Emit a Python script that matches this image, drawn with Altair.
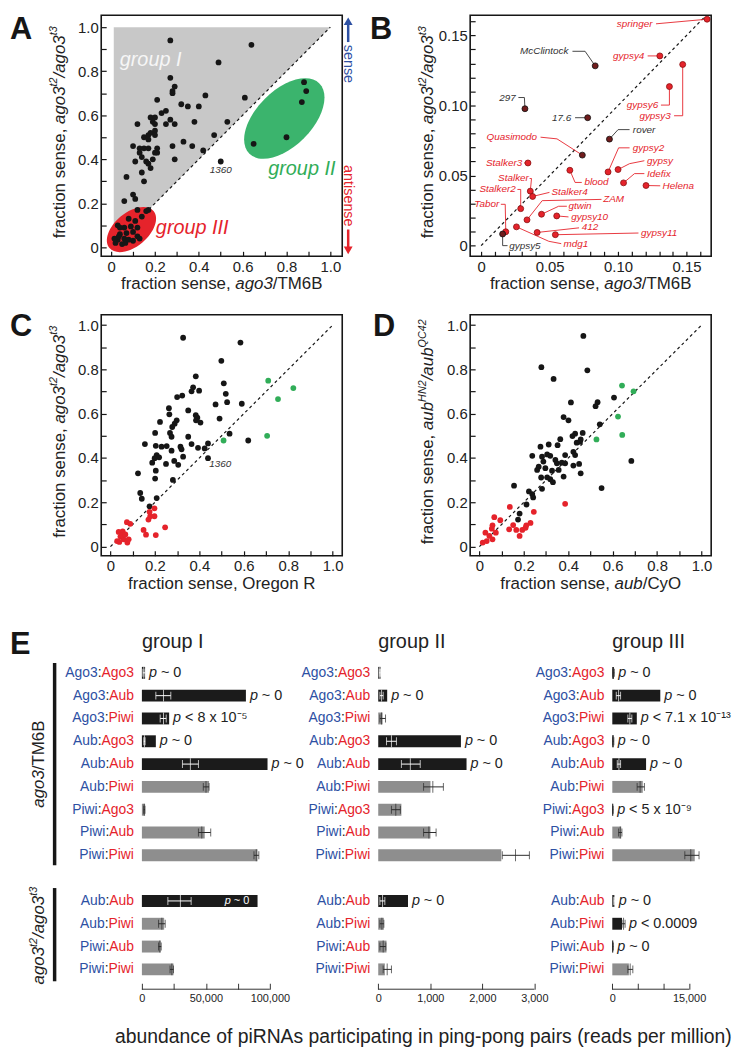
import altair as alt
import pandas as pd

FONT = "Liberation Sans, Arial, Helvetica, sans-serif"
INK = "#161616"
TXT = "#222222"
BLUE = "#2d50a3"
RED = "#e5232b"
GREEN = "#31ad58"
ELL_GREEN = "#3bb46d"
TRI_GRAY = "#c8c8c8"
BAR_DARK = "#1b1b1b"
BAR_GRAY = "#8e8e8e"

# ---------------- Panel A data ----------------
A1_x = [0.27, 0.64, 0.49, 0.27, 0.29, 0.28, 0.28, 0.61, 0.43, 0.21, 0.32, 0.35, 0.40, 0.23, 0.25, 0.18, 0.20, 0.27, 0.38, 0.12,
        0.19, 0.20, 0.25, 0.29, 0.53, 0.20, 0.18, 0.20, 0.17, 0.15, 0.17, 0.17, 0.47, 0.33, 0.28, 0.37, 0.10, 0.13, 0.15, 0.21,
        0.42, 0.21, 0.20, 0.14, 0.13, 0.11, 0.16, 0.17, 0.18, 0.19, 0.29, 0.14, 0.15, 0.07, 0.10, 0.11, 0.06, 0.12, 0.17, 0.50]
A1_y = [0.94, 0.92, 0.84, 0.77, 0.73, 0.71, 0.70, 0.68, 0.69, 0.67, 0.65, 0.64, 0.64, 0.61, 0.62, 0.59, 0.59, 0.58, 0.57, 0.56,
        0.57, 0.56, 0.56, 0.56, 0.57, 0.53, 0.52, 0.51, 0.51, 0.50, 0.49, 0.45, 0.51, 0.48, 0.46, 0.46, 0.46, 0.45, 0.45, 0.45,
        0.44, 0.43, 0.43, 0.41, 0.43, 0.39, 0.39, 0.38, 0.36, 0.40, 0.40, 0.34, 0.30, 0.32, 0.24, 0.22, 0.21, 0.17, 0.17, 0.39]
A2_x = [0.88, 0.89, 0.87, 0.65, 0.80]
A2_y = [0.75, 0.71, 0.66, 0.47, 0.50]
A3_x = [0.03, 0.08, 0.04, 0.03, 0.02, 0.05, 0.035, 0.06, 0.07, 0.09, 0.10, 0.12, 0.13, 0.16, 0.14, 0.11, 0.10, 0.065, 0.12,
        0.06, 0.08, 0.015, 0.04]
A3_y = [0.10, 0.13, 0.06, 0.035, 0.02, 0.015, 0.05, 0.04, 0.065, 0.095, 0.07, 0.05, 0.04, 0.165, 0.14, 0.12, 0.03, 0.02, 0.09,
        0.09, 0.035, 0.04, 0.09]

# ---------------- Panel B data ----------------
B_names = ["springer", "gypsy4", "McClintock", "gypsy3", "gypsy6", "297", "17.6", "rover", "Quasimodo", "Stalker3", "blood",
           "gypsy2", "gypsy", "Idefix", "Helena", "Stalker", "Stalker4", "Stalker2", "ZAM", "gtwin", "gypsy10", "Tabor",
           "gypsy5", "412", "gypsy11", "mdg1"]
B_x = [0.165, 0.1305, 0.0833, 0.1472, 0.1375, 0.032, 0.0778, 0.0937, 0.0739, 0.0342, 0.0648, 0.0927, 0.1, 0.104, 0.1204,
       0.0359, 0.0376, 0.0289, 0.0335, 0.0441, 0.0552, 0.018, 0.0157, 0.0409, 0.0542, 0.0258]
B_y = [0.1616, 0.1354, 0.1283, 0.1293, 0.1135, 0.0977, 0.0913, 0.076, 0.0646, 0.059, 0.0538, 0.0526, 0.0543, 0.0448, 0.0429,
       0.0389, 0.0351, 0.0264, 0.0184, 0.0224, 0.0212, 0.0099, 0.0083, 0.0094, 0.0078, 0.0134]
B_darkpt = [0, 0, 1, 0, 0, 1, 1, 1, 1, 0, 0, 0, 0, 0, 0, 0, 0, 0, 0, 0, 0, 0, 1, 0, 0, 0]
B_darklab = [0, 0, 1, 0, 0, 1, 1, 1, 0, 0, 0, 0, 0, 0, 0, 0, 0, 0, 0, 0, 0, 0, 1, 0, 0, 0]
B_tx = [0.1252, 0.1192, 0.0638, 0.1385, 0.1293, 0.0253, 0.0658, 0.1108, 0.0409, 0.0301, 0.0754, 0.1108, 0.1211, 0.1211,
        0.1325, 0.0349, 0.0513, 0.0253, 0.0891, 0.0638, 0.0658, 0.0132, 0.0205, 0.0735, 0.1168, 0.0602]
B_ty = [0.1583, 0.1354, 0.1387, 0.0927, 0.1003, 0.1057, 0.0913, 0.0828, 0.0774, 0.059, 0.0451, 0.0698, 0.0606, 0.0514,
        0.0427, 0.0479, 0.038, 0.0401, 0.033, 0.0281, 0.0205, 0.0295, 0.0, 0.0132, 0.009, 0.0014]
B_align = ["right", "right", "right", "right", "right", "right", "right", "left", "right", "right", "left", "left", "left",
           "left", "left", "right", "left", "right", "left", "left", "left", "right", "left", "left", "left", "left"]
B_lead_x = [[0.1277], [0.1216], [0.0667, 0.0759], [0.1409, 0.1472], [0.1313, 0.1375], [0.0272, 0.0316], [0.0686],
            [0.1084, 0.1], [0.0434, 0.0554], [0.0313], [0.0735, 0.0686], [0.1084, 0.1004], [0.1192, 0.1084],
            [0.1192, 0.112], [0.1308], [0.0354, 0.0368], [0.0499], [0.0265, 0.0289], [0.0879, 0.0446],
            [0.0626, 0.0566], [0.0638], [0.0144, 0.0176], [0.0193, 0.0157], [0.0715], [0.1149], [0.0585, 0.0494]]
B_lead_y = [[0.1583], [0.1354], [0.1387, 0.1387], [0.0927, 0.0927], [0.1003, 0.1003], [0.1057, 0.1057], [0.0913],
            [0.0828, 0.0828], [0.0774, 0.0762], [0.059], [0.0451, 0.0451], [0.0698, 0.0698], [0.0606, 0.0585],
            [0.0514, 0.0514], [0.0427], [0.0479, 0.0479], [0.038], [0.0401, 0.0401], [0.033, 0.0321],
            [0.0281, 0.0281], [0.0205], [0.0295, 0.0295], [0.0, 0.0], [0.0127], [0.009], [0.0014, 0.0031]]

# ---------------- Panel C data ----------------
C_black_x = [0.327, 0.585, 0.499, 0.51, 0.384, 0.372, 0.365, 0.399, 0.30, 0.323, 0.519, 0.525, 0.473, 0.591, 0.263, 0.265,
             0.35, 0.384, 0.391, 0.385, 0.405, 0.491, 0.298, 0.289, 0.223, 0.278, 0.268, 0.275, 0.201, 0.35, 0.536, 0.62,
             0.155, 0.204, 0.23, 0.253, 0.315, 0.32, 0.365, 0.394, 0.424, 0.439, 0.208, 0.219, 0.199, 0.188, 0.275, 0.25,
             0.287, 0.305, 0.327, 0.439, 0.124, 0.204, 0.201, 0.281, 0.134, 0.141, 0.208, 0.176]
C_black_y = [0.943, 0.921, 0.839, 0.737, 0.769, 0.719, 0.701, 0.704, 0.675, 0.682, 0.69, 0.652, 0.642, 0.645, 0.625, 0.597,
             0.615, 0.593, 0.582, 0.57, 0.56, 0.578, 0.57, 0.555, 0.563, 0.54, 0.513, 0.496, 0.513, 0.496, 0.51, 0.479,
             0.463, 0.455, 0.451, 0.454, 0.451, 0.439, 0.463, 0.446, 0.443, 0.466, 0.413, 0.403, 0.399, 0.379, 0.433, 0.373,
             0.387, 0.369, 0.406, 0.399, 0.331, 0.343, 0.307, 0.301, 0.242, 0.216, 0.219, 0.182]
C_green_x = [0.71, 0.754, 0.823, 0.509, 0.705]
C_green_y = [0.749, 0.666, 0.716, 0.479, 0.5]
C_red_x = [0.198, 0.176, 0.179, 0.171, 0.198, 0.246, 0.204, 0.149, 0.16, 0.074, 0.089, 0.037, 0.055, 0.045, 0.06, 0.04,
           0.076, 0.03, 0.052, 0.067, 0.082]
C_red_y = [0.173, 0.157, 0.137, 0.122, 0.137, 0.087, 0.052, 0.075, 0.054, 0.11, 0.103, 0.066, 0.069, 0.045, 0.033, 0.021,
           0.018, 0.025, 0.051, 0.055, 0.033]

# ---------------- Panel D data ----------------
D_black_x = [0.468, 0.279, 0.486, 0.334, 0.606, 0.532, 0.523, 0.412, 0.379, 0.401, 0.542, 0.465, 0.431, 0.419, 0.364, 0.453,
             0.438, 0.456, 0.275, 0.312, 0.352, 0.238, 0.282, 0.319, 0.305, 0.386, 0.423, 0.431, 0.288, 0.267, 0.342, 0.349,
             0.371, 0.386, 0.423, 0.449, 0.684, 0.26, 0.297, 0.327, 0.357, 0.379, 0.456, 0.278, 0.305, 0.319, 0.331, 0.282,
             0.156, 0.55, 0.223, 0.238, 0.242, 0.212, 0.181, 0.174]
D_black_y = [0.951, 0.81, 0.796, 0.757, 0.673, 0.652, 0.634, 0.651, 0.585, 0.57, 0.552, 0.513, 0.51, 0.499, 0.485, 0.473,
             0.469, 0.484, 0.451, 0.461, 0.458, 0.41, 0.406, 0.41, 0.416, 0.413, 0.428, 0.413, 0.384, 0.361, 0.391, 0.376,
             0.379, 0.376, 0.366, 0.373, 0.387, 0.346, 0.354, 0.343, 0.346, 0.316, 0.331, 0.312, 0.313, 0.304, 0.291, 0.261,
             0.275, 0.264, 0.249, 0.237, 0.222, 0.19, 0.149, 0.122]
D_green_x = [0.642, 0.694, 0.624, 0.643, 0.527]
D_green_y = [0.727, 0.701, 0.587, 0.504, 0.484]
D_red_x = [0.137, 0.245, 0.386, 0.067, 0.094, 0.059, 0.152, 0.134, 0.166, 0.193, 0.181, 0.208, 0.23, 0.211, 0.015, 0.033,
           0.027, 0.056, 0.074, 0.045, 0.059]
D_red_y = [0.179, 0.157, 0.193, 0.133, 0.119, 0.096, 0.097, 0.078, 0.075, 0.075, 0.048, 0.085, 0.107, 0.096, 0.018, 0.025,
           0.063, 0.081, 0.063, 0.048, 0.033]

# ---------------- Panel E data ----------------
E_pairs = ["Ago3:Ago3", "Ago3:Aub", "Ago3:Piwi", "Aub:Ago3", "Aub:Aub", "Aub:Piwi", "Piwi:Ago3", "Piwi:Aub", "Piwi:Piwi",
           "Aub:Aub", "Aub:Piwi", "Piwi:Aub", "Piwi:Piwi"]
E_keys = ["r0", "r1", "r2", "r3", "r4", "r5", "r6", "r7", "r8", "gap", "r10", "r11", "r12", "r13"]

G1_val = [2500, 81300, 21300, 10900, 98200, 52500, 2500, 49100, 90400, 90400, 17400, 14800, 24700]
G1_c = [1500, 16900, 16900, 2000, 37900, 50100, 1800, 46800, 89400, 30100, 15600, 14000, 23400]
G1_lo = [800, 10900, 14300, 1500, 31700, 48000, 1400, 44200, 87600, 20300, 13000, 13000, 22000]
G1_hi = [2500, 22600, 19000, 2500, 44200, 52500, 2400, 53800, 91400, 38500, 18200, 15100, 24700]
G1_dark = [1, 1, 1, 1, 1, 0, 0, 0, 0, 1, 0, 0, 0]
G1_p = ["~ 0", "~ 0", "< 8 x 10⁻⁵", "~ 0", "~ 0", "", "", "", "", "~ 0", "", "", ""]
G1_pin = [0, 0, 0, 0, 0, 0, 0, 0, 0, 1, 0, 0, 0]

G2_val = [45, 172, 83, 1589, 1697, 1004, 445, 1004, 2365, 572, 108, 159, 127]
G2_c = [30, 64, 64, 254, 617, 1049, 337, 973, 2638, 83, 70, 95, 172]
G2_lo = [20, 32, 32, 159, 445, 871, 254, 871, 2384, 32, 32, 32, 95]
G2_hi = [45, 95, 140, 350, 807, 1252, 426, 1112, 2905, 127, 108, 146, 254]
G2_dark = [1, 1, 0, 1, 1, 0, 0, 0, 0, 1, 0, 0, 0]
G2_p = ["", "~ 0", "", "~ 0", "~ 0", "", "", "", "", "~ 0", "", "", ""]
G2_pin = [0] * 13

G3_val = [300, 9381, 4788, 250, 6600, 5952, 150, 1747, 16110, 500, 1900, 150, 3235]
G3_c = [200, 1229, 3429, 150, 1294, 5435, 100, 1553, 15330, 400, 2200, 100, 3494]
G3_lo = [100, 776, 3041, 60, 970, 4853, 40, 1229, 14170, 300, 1900, 50, 3041]
G3_hi = [400, 1618, 3817, 300, 1618, 6276, 180, 1876, 16950, 500, 2500, 200, 4011]
G3_dark = [1, 1, 1, 1, 1, 0, 1, 0, 0, 1, 1, 1, 0]
G3_p = ["~ 0", "~ 0", "< 7.1 x 10⁻¹³", "~ 0", "~ 0", "", "< 5 x 10⁻⁹", "", "", "~ 0", "< 0.0009", "~ 0", ""]
G3_pin = [0] * 13

# ---------------- helpers ----------------
AW = {' ': 278, ',': 278, '-': 333, '.': 278, '/': 278, ':': 278, '(': 333, ')': 333, '~': 584, '<': 584,
      'A': 667, 'B': 667, 'C': 722, 'D': 722, 'E': 667, 'F': 611, 'G': 778, 'H': 722, 'I': 278, 'J': 500, 'K': 667,
      'L': 556, 'M': 833, 'N': 722, 'O': 778, 'P': 667, 'Q': 778, 'R': 722, 'S': 667, 'T': 611, 'U': 722, 'V': 667,
      'W': 944, 'X': 667, 'Y': 667, 'Z': 611, 'a': 556, 'b': 556, 'c': 500, 'd': 556, 'e': 556, 'f': 278, 'g': 556,
      'h': 556, 'i': 222, 'j': 222, 'k': 500, 'l': 222, 'm': 833, 'n': 556, 'o': 556, 'p': 556, 'q': 556, 'r': 333,
      's': 500, 't': 278, 'u': 556, 'v': 500, 'w': 722, 'x': 500, 'y': 500, 'z': 500}


def tw(s, fs):
    return sum(AW.get(ch, 556) for ch in s) * fs / 1000.0


DUMMY = pd.DataFrame({"z": [0]})


def txt(x, y, s, fs, color=TXT, italic=False, bold=False, align="left", baseline="alphabetic", angle=0):
    kw = dict(text=s, font=FONT, fontSize=fs, color=color, align=align, baseline=baseline)
    if italic:
        kw["fontStyle"] = "italic"
    if bold:
        kw["fontWeight"] = "bold"
    if angle:
        kw["angle"] = angle
    return alt.Chart(DUMMY).mark_text(**kw).encode(x=alt.value(x), y=alt.value(y))


def mixed(segs, fs, center, base, rotated=False, color=TXT, sup=0.64):
    sizes = [fs * sup if s else fs for _, _, s in segs]
    widths = [tw(t, f) for (t, _, _), f in zip(segs, sizes)]
    total = sum(widths)
    out = []
    cum = 0.0
    for (t, it, s), f, w in zip(segs, sizes, widths):
        shift = 0.42 * fs if s else 0.0
        if rotated:
            out.append(txt(base - shift, center + total / 2 - cum, t, f, color, italic=it, angle=270))
        else:
            out.append(txt(center - total / 2 + cum, base - shift, t, f, color, italic=it))
        cum += w
    return out


def spacer(top, bottom):
    # invisible vertical rule that fixes the row's full bounds for the concat layout
    return alt.Chart(DUMMY).mark_rule(strokeOpacity=0, strokeWidth=1).encode(
        x=alt.value(-93), y=alt.value(top), y2=alt.value(bottom))


def ellipse_path(r):
    k = 0.5523
    return ("M-1,0C-1,{a:.4f},{b:.4f},{c:.4f},0,{c:.4f}C{k:.4f},{c:.4f},1,{a:.4f},1,0"
            "C1,{d:.4f},{k:.4f},{r:.4f},0,{r:.4f}C{b:.4f},{r:.4f},-1,{d:.4f},-1,0Z").format(
        a=-k * r, b=-k, c=-r, k=k, d=k * r, r=r)


def frac_axis(vals, expr):
    return alt.Axis(values=vals, labelExpr=expr, title="", domain=False, grid=False, ticks=True, tickSize=5,
                    offset=-5, tickColor=INK, tickWidth=1.2, labelFont=FONT, labelFontSize=15, labelColor=TXT,
                    labelPadding=3, labelFlush=False, labelOverlap=False)


TENTHS = [round(i * 0.1, 1) for i in range(11)]
TENTH_EXPR = "datum.value == 0 ? '0' : (round(datum.value * 10) % 2 == 0 ? format(datum.value, '.1f') : '')"
HUND = [round(i * 0.01, 2) for i in range(17)]
HUND_EXPR = "datum.value == 0 ? '0' : (round(datum.value * 100) % 5 == 0 ? format(datum.value, '.2f') : '')"


def xy(xdom, ydom, vals, expr):
    X = alt.X("x:Q", scale=alt.Scale(domain=xdom, nice=False, zero=False), axis=frac_axis(vals, expr))
    Y = alt.Y("y:Q", scale=alt.Scale(domain=ydom, nice=False, zero=False), axis=frac_axis(vals, expr))
    return X, Y


def dots(xs, ys, color, X, Y, size=34):
    return alt.Chart(pd.DataFrame({"x": xs, "y": ys})).mark_circle(size=size, color=color, opacity=1).encode(x=X, y=Y)


def diag(X, Y, hi=1.0):
    return alt.Chart(pd.DataFrame({"x": [0, hi], "y": [0, hi]})).mark_line(
        color=INK, strokeDash=[3, 3], strokeWidth=1.2).encode(x=X, y=Y)


def dtext(x, y, s, fs, color, X, Y, italic=True):
    kw = dict(text=s, font=FONT, fontSize=fs, color=color, align="center", baseline="middle")
    if italic:
        kw["fontStyle"] = "italic"
    return alt.Chart(pd.DataFrame({"x": [x], "y": [y]})).mark_text(**kw).encode(x=X, y=Y)


FRAME = alt.ViewBackground(stroke=INK, strokeWidth=1.6)
SEG_AGO3_Y = [("fraction sense, ", False, False), ("ago3", True, False), ("t2", True, True), ("/ago3", True, False),
              ("t3", True, True)]
SEG_AGO3_X = [("fraction sense, ", False, False), ("ago3", True, False), ("/TM6B", False, False)]

# ---------------- Panel A ----------------
XA, YA = xy([-0.0452, 1.0543], [-0.0405, 1.054], TENTHS, TENTH_EXPR)
tri = alt.Chart(pd.DataFrame({"x": [0.012, 1.0], "y": [0.012, 1.0], "y2": [1.0, 1.0]})).mark_area(
    color=TRI_GRAY, opacity=1).encode(x=XA, y=YA, y2="y2:Q")
ell_g = alt.Chart(pd.DataFrame({"x": [0.79], "y": [0.585]})).mark_point(
    shape=ellipse_path(0.56), filled=True, opacity=1, color=ELL_GREEN, size=10000, angle=315, strokeWidth=0).encode(x=XA, y=YA)
ell_r = alt.Chart(pd.DataFrame({"x": [0.093], "y": [0.081]})).mark_point(
    shape=ellipse_path(0.59), filled=True, opacity=1, color=RED, size=3364, angle=320, strokeWidth=0).encode(x=XA, y=YA)
sense = [
    alt.Chart(DUMMY).mark_rule(color=BLUE, strokeWidth=2.5).encode(x=alt.value(249), y=alt.value(9), y2=alt.value(27)),
    alt.Chart(DUMMY).mark_point(shape="triangle-up", filled=True, color=BLUE, size=80, opacity=1).encode(
        x=alt.value(249), y=alt.value(6)),
    txt(249, 49, "sense", 14.5, BLUE, align="center", baseline="middle", angle=90),
    txt(249, 182, "antisense", 14.5, RED, align="center", baseline="middle", angle=90),
    alt.Chart(DUMMY).mark_rule(color=RED, strokeWidth=2.5).encode(x=alt.value(249), y=alt.value(216), y2=alt.value(234)),
    alt.Chart(DUMMY).mark_point(shape="triangle-down", filled=True, color=RED, size=80, opacity=1).encode(
        x=alt.value(249), y=alt.value(237)),
]
panelA = alt.layer(
    spacer(-1, 290),
    tri, diag(XA, YA), ell_g, ell_r,
    dots(A1_x, A1_y, INK, XA, YA), dots(A2_x, A2_y, INK, XA, YA), dots(A3_x, A3_y, INK, XA, YA),
    dtext(0.18, 0.85, "group I", 20, "#f6f6f6", XA, YA),
    dtext(0.87, 0.356, "group II", 20, GREEN, XA, YA),
    dtext(0.37, 0.086, "group III", 20, RED, XA, YA),
    dtext(0.50, 0.351, "1360", 10, "#333333", XA, YA),
    *sense,
    txt(-92, 23.5, "A", 31, INK, bold=True),
    *mixed(SEG_AGO3_Y, 17, 118, -37, rotated=True),
    *mixed(SEG_AGO3_X, 17, 121.5, 276),
).properties(width=243, height=243, view=FRAME)

# ---------------- Panel B ----------------
XB, YB = xy([-0.008, 0.168], [-0.0076, 0.1644], HUND, HUND_EXPR)
rows = []
for i, (lx, ly) in enumerate(zip(B_lead_x, B_lead_y)):
    col = "#333333" if B_darklab[i] else RED
    pts = list(zip(lx, ly)) + [(B_x[i], B_y[i])]
    for o, (px, py) in enumerate(pts):
        rows.append({"id": B_names[i], "o": o, "x": px, "y": py, "c": col})
lead_df = pd.DataFrame(rows)
leads = alt.Chart(lead_df).mark_line(strokeWidth=0.9).encode(
    x=XB, y=YB, detail="id:N", order="o:Q", color=alt.Color("c:N", scale=None))
bpts_df = pd.DataFrame({"x": B_x, "y": B_y,
                        "f": ["#701c1c" if d else RED for d in B_darkpt],
                        "s": ["#111111" if d else "#8a1111" for d in B_darkpt]})
bpts = alt.Chart(bpts_df).mark_point(filled=True, opacity=1, size=36, strokeWidth=0.8, shape="circle").encode(
    x=XB, y=YB, fill=alt.Fill("f:N", scale=None), stroke=alt.Stroke("s:N", scale=None))
blab_df = pd.DataFrame({"x": B_tx, "y": B_ty, "t": B_names, "a": B_align,
                        "c": ["#333333" if d else RED for d in B_darklab]})
blab_r = alt.Chart(blab_df).transform_filter("datum.a == 'right'").mark_text(
    align="right", baseline="middle", font=FONT, fontSize=10, fontStyle="italic").encode(
    x=XB, y=YB, text="t:N", color=alt.Color("c:N", scale=None))
blab_l = alt.Chart(blab_df).transform_filter("datum.a == 'left'").mark_text(
    align="left", baseline="middle", font=FONT, fontSize=10, fontStyle="italic").encode(
    x=XB, y=YB, text="t:N", color=alt.Color("c:N", scale=None))
panelB = alt.layer(
    diag(XB, YB, 0.163), leads, bpts, blab_r, blab_l,
    txt(-101, 23.5, "B", 31, INK, bold=True),
    *mixed(SEG_AGO3_Y, 17, 118, -37, rotated=True),
    *mixed(SEG_AGO3_X, 17, 121.5, 276),
).properties(width=243, height=243, view=FRAME)

# ---------------- Panel C ----------------
XC, YC = xy([-0.0415, 1.043], [-0.0416, 1.0466], TENTHS, TENTH_EXPR)
panelC = alt.layer(
    spacer(-10, 290),
    diag(XC, YC),
    dots(C_black_x, C_black_y, INK, XC, YC), dots(C_green_x, C_green_y, GREEN, XC, YC),
    dots(C_red_x, C_red_y, RED, XC, YC),
    dtext(0.494, 0.373, "1360", 10, "#333333", XC, YC),
    txt(-92, 21, "C", 31, INK, bold=True),
    *mixed(SEG_AGO3_Y, 17, 118, -37, rotated=True),
    *mixed([("fraction sense, Oregon R", False, False)], 17, 121.5, 276),
).properties(width=243, height=243, view=FRAME)

# ---------------- Panel D ----------------
XD, YD = xy([-0.0415, 1.0434], [-0.0416, 1.0466], TENTHS, TENTH_EXPR)
panelD = alt.layer(
    diag(XD, YD),
    dots(D_black_x, D_black_y, INK, XD, YD), dots(D_green_x, D_green_y, GREEN, XD, YD),
    dots(D_red_x, D_red_y, RED, XD, YD),
    txt(-98, 21, "D", 31, INK, bold=True),
    *mixed([("fraction sense, ", False, False), ("aub", True, False), ("HN2", True, True), ("/aub", True, False),
            ("QC42", True, True)], 17, 118, -37, rotated=True),
    *mixed([("fraction sense, ", False, False), ("aub", True, False), ("/CyO", False, False)], 17, 121.5, 276),
).properties(width=243, height=243, view=FRAME)


# ---------------- Panel E ----------------
LAB_FS = 14


def e_panel(vals, cs, los, his, dark, ptxt, pin, dom, rng, width, ticks, lexpr, title, extra):
    keys = [k for k in E_keys if k != "gap"]
    first = [p.split(":")[0] for p in E_pairs]
    second = [p.split(":")[1] for p in E_pairs]
    df = pd.DataFrame({
        "key": keys, "first": first, "second": second,
        "val": vals, "c": cs, "lo": los, "hi": his,
        "bc": [BAR_DARK if d else BAR_GRAY for d in dark],
        "ec": ["#ffffff" if (d and h <= v) else "#2a2a2a" for d, h, v in zip(dark, his, vals)],
        "px": [max(v, h) for v, h in zip(vals, his)],
        "p": ptxt, "pin": pin, "z": [0] * len(keys)})
    ax = alt.Axis(values=ticks, labelExpr=lexpr, title="", domain=False, grid=False, tickSize=6, offset=2,
                  tickColor="#333333", tickWidth=1, labelFont=FONT, labelFontSize=11, labelColor=TXT,
                  labelPadding=3, labelFlush=False, labelOverlap=False)
    sc = alt.Scale(domain=dom, range=rng, nice=False, zero=False)

    def X(f):
        return alt.X(f + ":Q", scale=sc, axis=ax)

    Y = alt.Y("key:N", scale=alt.Scale(domain=E_keys, range=[47.5, 369.5], paddingInner=0, paddingOuter=0), axis=None)
    base = alt.Chart(df)
    ecol = alt.Color("ec:N", scale=None)
    layers = [
        base.mark_bar(size=12).encode(x=X("val"), y=Y, color=alt.Color("bc:N", scale=None)),
        base.mark_rule(strokeWidth=1).encode(x=X("lo"), x2="hi:Q", y=Y, color=ecol),
        base.mark_tick(size=8, thickness=1).encode(x=X("lo"), y=Y, color=ecol),
        base.mark_tick(size=8, thickness=1).encode(x=X("hi"), y=Y, color=ecol),
        base.mark_tick(size=12, thickness=1).encode(x=X("c"), y=Y, color=ecol),
    ]
    # two-coloured row labels: blue first partner, black colon, red second partner
    for w in ["Ago3", "Aub", "Piwi"]:
        sub = base.transform_filter(f"datum.second == '{w}'")
        d1 = -8
        d2 = d1 - tw(w, LAB_FS)
        d3 = d2 - tw(":", LAB_FS)
        layers += [
            sub.mark_text(align="right", baseline="middle", dx=d1, font=FONT, fontSize=LAB_FS, color=RED).encode(
                x=X("z"), y=Y, text="second:N"),
            sub.mark_text(text=":", align="right", baseline="middle", dx=d2, font=FONT, fontSize=LAB_FS,
                          color=TXT).encode(x=X("z"), y=Y),
            sub.mark_text(align="right", baseline="middle", dx=d3, font=FONT, fontSize=LAB_FS, color=BLUE).encode(
                x=X("z"), y=Y, text="first:N"),
        ]
    layers += [
        base.transform_filter("datum.p != '' && datum.pin == 0").mark_text(
            text="p", align="left", baseline="middle", dx=4, font=FONT, fontSize=14.5, fontStyle="italic",
            color=TXT).encode(x=X("px"), y=Y),
        base.transform_filter("datum.p != '' && datum.pin == 0").mark_text(
            align="left", baseline="middle", dx=16, font=FONT, fontSize=14.5, color=TXT).encode(
            x=X("px"), y=Y, text="p:N"),
        base.transform_filter("datum.pin == 1").mark_text(
            text="p", align="left", baseline="middle", dx=-33, font=FONT, fontSize=11, fontStyle="italic",
            color="#ffffff").encode(x=X("val"), y=Y),
        base.transform_filter("datum.pin == 1").mark_text(
            align="left", baseline="middle", dx=-24, font=FONT, fontSize=11, color="#ffffff").encode(
            x=X("val"), y=Y, text="p:N"),
        alt.Chart(DUMMY).mark_text(text=title, align="left", baseline="middle", font=FONT, fontSize=20,
                                   color=TXT).encode(x=X("z"), y=alt.value(28)),
        alt.Chart(pd.DataFrame({"z": [0], "zz": [dom[1]]})).mark_rule(color="#333333", strokeWidth=1).encode(
            x=X("z"), x2="zz:Q", y=alt.value(378)),
    ]
    return alt.layer(*layers, *extra).properties(width=width, height=370)


E_extra = [
    spacer(-10, 440),
    txt(-92, 40, "E", 31, INK, bold=True),
    alt.Chart(DUMMY).mark_rule(color=INK, strokeWidth=3.5).encode(x=alt.value(-47), y=alt.value(49), y2=alt.value(253)),
    alt.Chart(DUMMY).mark_rule(color=INK, strokeWidth=3.5).encode(x=alt.value(-47), y=alt.value(276), y2=alt.value(370)),
    *mixed([("ago3", True, False), ("/TM6B", False, False)], 17, 151, -58, rotated=True),
    *mixed([("ago3", True, False), ("t2", True, True), ("/ago3", True, False), ("t3", True, True)], 17, 324, -58,
           rotated=True),
    txt(14, 432, "abundance of piRNAs participating in ping-pong pairs (reads per million)", 19.5, TXT),
]

E1 = e_panel(G1_val, G1_c, G1_lo, G1_hi, G1_dark, G1_p, G1_pin, [0, 100000], [41, 170], 170,
             [0, 25000, 50000, 75000, 100000], "datum.value % 50000 == 0 ? format(datum.value, ',') : ''",
             "group I", E_extra)
E2 = e_panel(G2_val, G2_c, G2_lo, G2_hi, G2_dark, G2_p, G2_pin, [0, 3000], [109.3, 266.7], 267,
             [0, 1000, 2000, 3000], "format(datum.value, ',')", "group II", [])
E3 = e_panel(G3_val, G3_c, G3_lo, G3_hi, G3_dark, G3_p, G3_pin, [0, 15000], [78.3, 155.7], 156,
             [0, 5000, 10000, 15000], "datum.value % 15000 == 0 ? format(datum.value, ',') : ''", "group III", [])

row1 = alt.hconcat(panelA, panelB, spacing=129, bounds="flush")
row2 = alt.hconcat(panelC, panelD, spacing=129, bounds="flush")
row3 = alt.hconcat(E1, E2, E3, spacing=0, bounds="flush")

chart = alt.vconcat(row1, row2, row3, spacing=0, bounds="full").properties(
    padding=0, background="white").configure_view(stroke="transparent")

chart.save("out.html", embed_options={"renderer": "svg", "actions": False})
